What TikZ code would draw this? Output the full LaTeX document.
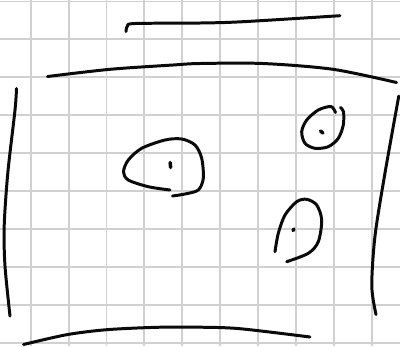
\documentclass[tikz,border=0pt]{standalone}
\usepackage{tikz}
\definecolor{gridgray}{RGB}{208,208,208}
\definecolor{inkblack}{RGB}{10,10,10}

\begin{document}
\begin{tikzpicture}[
    x=0.02cm, y=-0.02cm,
    paper/.style={gridgray, line width=1.1pt},
    pen/.style={inkblack, line width=1.7pt, line cap=round, line join=round},
    dot/.style={inkblack, line width=2pt, line cap=round}
]
  \useasboundingbox (0,0) rectangle (400,346);
  \fill[white] (0,0) rectangle (400,346);

  % squared paper
  \foreach \i in {0,...,9} {
    \draw[paper] ({30.7+37.9*\i},0) -- ({30.7+37.9*\i},346);
    \draw[paper] (0,{1.5+37.94*\i}) -- (400,{1.5+37.94*\i});
  }

  % top short stroke with hook
  \draw[pen] plot[smooth] coordinates {(126,31.5) (127.5,26) (135,23.5) (200,23) (243,21.7) (340,15.7)};

  % upper edge
  \draw[pen] plot[smooth] coordinates {(47.5,76.5) (110,69.3) (173,65) (200,63.5) (263,63.5) (333,69.3) (396.5,82.5)};

  % left edge
  \draw[pen] plot[smooth] coordinates {(16.5,88.5) (15,110) (7.8,173) (4.2,226) (5,266) (10,316)};

  % right edge
  \draw[pen] plot[smooth] coordinates {(398.8,96) (385,173) (375,236) (371.8,286) (376,314.5)};

  % lower edge
  \draw[pen] plot[smooth] coordinates {(23.5,344.5) (66.7,334.7) (106.7,329.7) (156.7,327.3) (200,327.2) (240,328.7) (310,337)};

  % large blob
  \draw[pen] plot[smooth] coordinates {(170,190) (148.3,186.7) (128.3,180) (123.5,171.7) (128.3,160) (141.7,148.3) (165,140) (181.7,139) (195,145) (201.7,158.3) (203.3,178.3) (198.3,190) (185,194) (172.5,196)};
  \draw[dot] (170.2,162.5) -- (170.6,167.5);

  % small blob, top right
  \draw[pen] plot[smooth] coordinates {(335.5,112.5) (331,106.5) (318.3,110) (306.7,120) (301.7,131.7) (305,143.3) (315,148.3) (328.3,146.7) (338.3,138.3) (343.3,125) (343.5,111.7) (340.5,107.5)};
  \draw[dot] (320.5,131) -- (323,133);

  % small blob, bottom right
  \draw[pen] plot[smooth] coordinates {(275,251.7) (278.3,233.3) (285,215) (296.7,201.7) (306.7,199.3) (316.7,205) (321.7,220) (318.3,241.7) (308.3,253.3) (286.7,261.7)};
  \draw[dot] (293,230.5) -- (294,229);
\end{tikzpicture}
\end{document}
